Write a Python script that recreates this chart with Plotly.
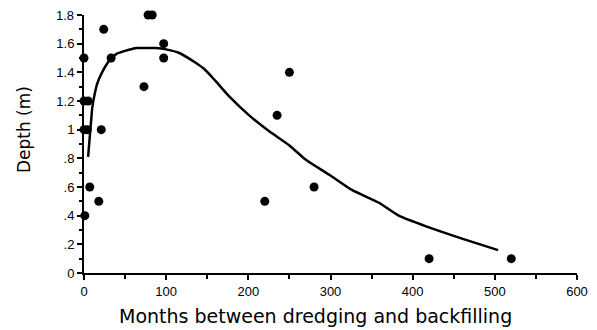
import plotly.graph_objects as go

# Observed points (months, depth m)
months = [0, 0, 5, 0, 4, 21, 7, 18, 1, 24, 33, 78, 83, 73, 97, 97, 220, 235, 250, 280, 420, 520]
depth = [1.5, 1.2, 1.2, 1.0, 1.0, 1.0, 0.6, 0.5, 0.4, 1.7, 1.5, 1.8, 1.8, 1.3, 1.6, 1.5, 0.5, 1.1, 1.4, 0.6, 0.1, 0.1]

# Fitted curve
curve_x = [5, 7, 8.5, 10, 12, 16, 22, 32, 40, 50, 64, 75, 88, 100, 116, 135, 147, 160, 177,
           201, 225, 250, 270, 300, 326, 359, 383, 419, 460, 504]
curve_y = [0.81, 0.95, 1.05, 1.15, 1.22, 1.32, 1.40, 1.49, 1.53, 1.55, 1.57, 1.57, 1.57, 1.56,
           1.535, 1.47, 1.42, 1.34, 1.23, 1.10, 0.99, 0.89, 0.79, 0.68, 0.58, 0.49, 0.40, 0.32, 0.24, 0.16]

y_ticks = [0, 0.2, 0.4, 0.6, 0.8, 1.0, 1.2, 1.4, 1.6, 1.8]
y_labels = ["0", ".2", ".4", ".6", ".8", "1", "1.2", "1.4", "1.6", "1.8"]
x_ticks = [0, 100, 200, 300, 400, 500, 600]

x_title = "Months between dredging and backfilling"
y_title = "Depth (m)"

tick_font = dict(family="Liberation Sans Narrow, Liberation Sans, Arial", size=13, color="black")

# the top tick label sits at the very edge of the page; draw it as an annotation
top_label = y_labels[-1]
axis_labels = y_labels[:-1] + [""]

fig = go.Figure()
fig.add_trace(go.Scatter(x=curve_x, y=curve_y, mode="lines",
                         line=dict(color="black", width=2.5, shape="spline", smoothing=0.6),
                         hoverinfo="skip", showlegend=False))
fig.add_trace(go.Scatter(x=months, y=depth, mode="markers",
                         marker=dict(color="black", size=9),
                         cliponaxis=False, showlegend=False))

fig.update_layout(
    width=597, height=330,
    margin=dict(l=76, r=28, t=7, b=65, autoexpand=False),
    paper_bgcolor="white", plot_bgcolor="white",
    font=dict(family="Liberation Sans, Arial", color="black", size=12),
    annotations=[
        dict(text=x_title, xref="paper", yref="paper", x=0.4686, y=-0.1667,
             xanchor="center", yanchor="middle", showarrow=False,
             font=dict(family="DejaVu Sans", size=19, color="black")),
        dict(text=y_title, xref="paper", yref="paper", x=-0.1217, y=0.554,
             xanchor="center", yanchor="middle", showarrow=False, textangle=-90,
             font=dict(family="DejaVu Sans", size=17, color="black")),
        dict(text=top_label, xref="paper", yref="y", x=0, y=y_ticks[-1], xshift=-8,
             xanchor="right", yanchor="middle", showarrow=False, font=tick_font),
    ],
)
fig.update_xaxes(
    range=[0, 600], tickvals=x_ticks, ticktext=[str(v) for v in x_ticks],
    showgrid=False, zeroline=False, showline=True, linecolor="black", linewidth=2,
    ticks="outside", ticklen=5, tickwidth=1.5, tickcolor="black",
    minor=dict(tickvals=[50, 150, 250, 350, 450, 550], ticks="outside", ticklen=4, tickcolor="black"),
    tickfont=tick_font, automargin=False,
)
fig.update_yaxes(
    range=[0, 1.8], tickvals=y_ticks, ticktext=axis_labels,
    showgrid=False, zeroline=False, showline=True, linecolor="black", linewidth=2,
    ticks="outside", ticklen=5, tickwidth=1.5, tickcolor="black",
    minor=dict(dtick=0.1, ticks="outside", ticklen=3, tickcolor="black"),
    tickfont=tick_font, automargin=False,
)

fig.write_html("out.html")
